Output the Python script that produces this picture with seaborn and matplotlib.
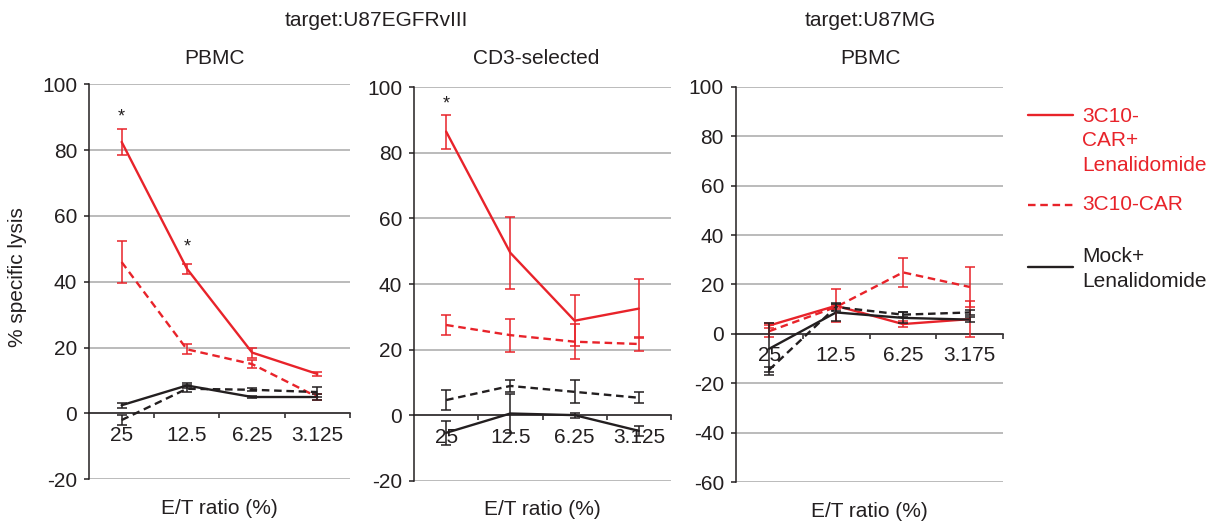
import numpy as np
import pandas as pd
import matplotlib
matplotlib.use("Agg")
import matplotlib.pyplot as plt
import seaborn as sns
from matplotlib.lines import Line2D

# ---------------- data ----------------
series = ["3C10-CAR+Lenalidomide", "3C10-CAR", "Mock+Lenalidomide", "Mock"]

p1_labels = ["25", "12.5", "6.25", "3.125"]
p1_car_len = [82.5, 44.0, 18.5, 12.0]
p1_car_len_err = [4.0, 1.5, 1.5, 0.7]
p1_car = [46.0, 19.5, 15.0, 5.0]
p1_car_err = [6.5, 1.5, 1.2, 1.0]
p1_mock_len = [2.5, 8.5, 5.0, 5.0]
p1_mock_len_err = [0.8, 0.8, 0.3, 1.0]
p1_mock = [-2.0, 7.5, 7.2, 6.5]
p1_mock_err = [1.5, 1.0, 0.5, 1.5]
p1_stars = {0: 90.0, 1: 50.5}

p2_labels = ["25", "12.5", "6.25", "3.125"]
p2_car_len = [86.5, 49.5, 28.8, 32.5]
p2_car_len_err = [5.2, 11.0, 7.7, 9.0]
p2_car = [27.5, 24.4, 22.4, 21.7]
p2_car_err = [3.1, 5.0, 5.4, 2.0]
p2_mock_len = [-5.4, 0.5, 0.0, -4.8]
p2_mock_len_err = [3.6, 6.0, 0.8, 1.5]
p2_mock = [4.6, 8.9, 7.1, 5.3]
p2_mock_err = [3.0, 1.7, 3.5, 1.7]
p2_stars = {0: 94.8}

p3_labels = ["25", "12.5", "6.25", "3.175"]
p3_car_len = [3.4, 11.4, 4.0, 6.0]
p3_car_len_err = [1.0, 6.6, 1.2, 7.3]
p3_car = [1.1, 10.9, 24.9, 19.0]
p3_car_err = [2.4, 1.0, 5.9, 8.0]
p3_mock_len = [-6.0, 8.7, 6.5, 5.8]
p3_mock_len_err = [10.5, 3.6, 2.2, 1.0]
p3_mock = [-14.5, 10.9, 7.8, 8.7]
p3_mock_err = [1.0, 1.5, 1.0, 1.0]
p3_stars = {}

legend_labels = ["3C10-\nCAR+\nLenalidomide", "3C10-CAR", "Mock+\nLenalidomide"]

# ---------------- style ----------------
W, H = 1219, 521
RED = "#E8232A"
BLK = "#231F20"
GRID = "#A8A8A8"
FS = 15

sns.set_theme(style="white")
plt.rcParams["font.family"] = ["Liberation Sans", "DejaVu Sans"]

colors = {series[0]: RED, series[1]: RED, series[2]: BLK, series[3]: BLK}
dash_map = {series[0]: "", series[1]: (3.2, 2.0), series[2]: "", series[3]: (3.2, 2.0)}

fig = plt.figure(figsize=(W / 100, H / 100), dpi=100)


def px_rect(l, r, t, b):
    return [l / W, 1 - b / H, (r - l) / W, (b - t) / H]


def fxy(x, y):
    return x / W, 1 - y / H


def draw_panel(rect, labels, vals, errs, ylim, yticks, stars):
    ax = fig.add_axes(rect)
    x = np.arange(len(labels))
    rows = []
    for name in series:
        for xi, v in zip(x, vals[name]):
            rows.append({"x": xi, "y": v, "series": name})
    df = pd.DataFrame(rows)
    sns.lineplot(data=df, x="x", y="y", hue="series", style="series",
                 hue_order=series, style_order=series,
                 palette=colors, dashes=dash_map, linewidth=1.7,
                 legend=False, sort=False, ax=ax, zorder=2)
    for name in series:
        ax.errorbar(x, vals[name], yerr=errs[name], fmt="none",
                    ecolor=colors[name], elinewidth=1.1, capsize=3.5,
                    capthick=1.1, zorder=3)
    for idx, yv in stars.items():
        ax.text(x[idx], yv, "*", ha="center", va="center", fontsize=13,
                color=BLK, zorder=4)

    ax.set_xlim(-0.5, len(labels) - 0.5)
    ax.set_ylim(*ylim)
    ax.set_yticks(yticks)
    ax.set_yticklabels([f"{t}" for t in yticks])
    ax.set_xticks(x)
    ax.set_xticklabels(labels)
    ax.set_xticks(x + 0.5, minor=True)
    ax.set_xlabel("")
    ax.set_ylabel("")

    ax.spines["top"].set_visible(False)
    ax.spines["right"].set_visible(False)
    ax.spines["bottom"].set_position(("data", 0))
    for s in ("left", "bottom"):
        ax.spines[s].set_color(BLK)
        ax.spines[s].set_linewidth(1.1)

    ax.tick_params(axis="x", which="major", bottom=True, length=0, pad=9,
                   labelsize=FS, labelcolor=BLK)
    ax.tick_params(axis="x", which="minor", bottom=True, length=3.6,
                   width=1.1, color=BLK, direction="out")
    ax.tick_params(axis="y", left=True, length=3.5, width=1.1, color=BLK,
                   pad=5, labelsize=FS, labelcolor=BLK)
    ax.yaxis.grid(True, color=GRID, linewidth=1.1)
    ax.xaxis.grid(False)
    ax.set_axisbelow(True)
    ax.text(0.5, -0.073, "E/T ratio (%)", transform=ax.transAxes,
            ha="center", va="center", fontsize=FS, color=BLK)
    return ax


ax1 = draw_panel(px_rect(89, 350, 84.3, 479.3), p1_labels,
                 dict(zip(series, [p1_car_len, p1_car, p1_mock_len, p1_mock])),
                 dict(zip(series, [p1_car_len_err, p1_car_err, p1_mock_len_err, p1_mock_err])),
                 (-20, 100), list(range(-20, 101, 20)), p1_stars)
ax2 = draw_panel(px_rect(414, 671, 87.3, 480.7), p2_labels,
                 dict(zip(series, [p2_car_len, p2_car, p2_mock_len, p2_mock])),
                 dict(zip(series, [p2_car_len_err, p2_car_err, p2_mock_len_err, p2_mock_err])),
                 (-20, 100), list(range(-20, 101, 20)), p2_stars)
ax3 = draw_panel(px_rect(735.7, 1003.3, 86.7, 482.3), p3_labels,
                 dict(zip(series, [p3_car_len, p3_car, p3_mock_len, p3_mock])),
                 dict(zip(series, [p3_car_len_err, p3_car_err, p3_mock_len_err, p3_mock_err])),
                 (-60, 100), list(range(-60, 101, 20)), p3_stars)

# titles
fig.text(*fxy(376.7, 20.5), "target:U87EGFRvIII", ha="center", va="center", fontsize=FS, color=BLK)
fig.text(*fxy(870, 20.5), "target:U87MG", ha="center", va="center", fontsize=FS, color=BLK)
fig.text(*fxy(215, 59), "PBMC", ha="center", va="center", fontsize=FS, color=BLK)
fig.text(*fxy(536, 59), "CD3-selected", ha="center", va="center", fontsize=FS, color=BLK)
fig.text(*fxy(871, 59), "PBMC", ha="center", va="center", fontsize=FS, color=BLK)

# y label
fig.text(*fxy(18, 277), "% specific lysis", rotation=90, ha="center", va="center",
         fontsize=FS, color=BLK)

# legend (manual)
leg = [
    (series[0], legend_labels[0], 115, 141),
    (series[1], legend_labels[1], 205, 205),
    (series[2], legend_labels[2], 267, 269),
]
for name, lab, ly, ty in leg:
    x0, y0 = fxy(1028, ly)
    x1, _ = fxy(1073, ly)
    ln = Line2D([x0, x1], [y0, y0], transform=fig.transFigure, color=colors[name],
                linewidth=1.7)
    if dash_map[name]:
        ln.set_dashes(dash_map[name])
    fig.add_artist(ln)
    fig.text(*fxy(1082, ty), lab, ha="left", va="center", fontsize=FS,
             color=colors[name], linespacing=1.38)

fig.savefig("out.png", dpi=100)
